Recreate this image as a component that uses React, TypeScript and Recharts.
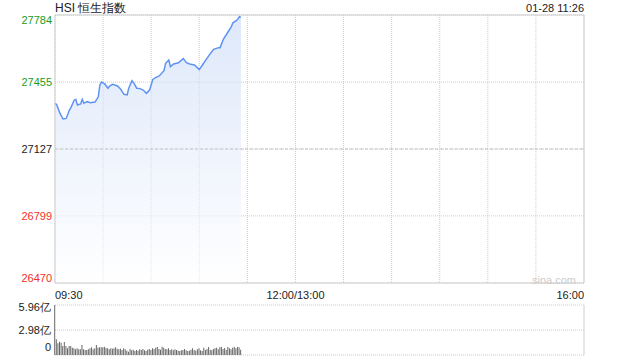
import {
  Area, Bar, BarChart, CartesianGrid, ComposedChart,
  ReferenceArea, ReferenceLine, XAxis, YAxis,
} from 'recharts'

// minutes since 09:30 (trading minutes, lunch break removed)
const priceMinutes = [
  0, 1, 3, 5, 7, 9, 10, 12, 13, 14, 16, 17, 18, 20, 22, 25, 27, 28, 29, 31,
  33, 34, 36, 39, 41, 43, 45, 46, 48, 49, 51, 53, 55, 57, 59, 61, 63, 65, 68, 69,
  71, 72, 74, 77, 80, 82, 84, 87, 90, 92, 94, 97, 99, 102, 103, 105, 108, 110, 111, 113,
  114, 115, 116,
]
const priceValues = [
  27351, 27345, 27304, 27274, 27277, 27318, 27331, 27367, 27370, 27343, 27348, 27370, 27351, 27359, 27354, 27357, 27383, 27441, 27455, 27446,
  27425, 27436, 27444, 27436, 27420, 27395, 27392, 27425, 27462, 27452, 27425, 27423, 27416, 27400, 27416, 27468, 27478, 27485, 27511, 27547,
  27563, 27531, 27544, 27550, 27570, 27550, 27544, 27539, 27516, 27539, 27563, 27596, 27616, 27624, 27624, 27665, 27702, 27727, 27746, 27756,
  27763, 27776, 27772,
]

// per-minute volume, 亿
const volumeValues = [
  5.96, 1.87, 1.39, 1.59, 1.47, 1.07, 1.55, 1.07, 0.79, 1.07, 1.07, 0.87, 0.79, 0.68, 0.79, 0.68, 0.68, 1.19, 0.68, 0.6,
  0.6, 0.68, 0.79, 0.91, 0.68, 0.79, 1.19, 0.87, 0.91, 0.91, 0.91, 0.99, 0.83, 0.79, 0.68, 0.79, 0.75, 0.79, 0.91, 0.75,
  0.68, 0.75, 0.6, 0.79, 0.68, 0.52, 0.4, 0.72, 0.56, 0.64, 0.48, 0.6, 0.52, 0.68, 0.6, 0.72, 0.56, 0.48, 0.64, 0.72,
  0.6, 0.8, 0.72, 0.87, 0.95, 0.72, 0.64, 0.99, 0.87, 0.72, 0.68, 0.79, 0.6, 0.68, 0.56, 0.68, 0.6, 0.52, 0.48, 0.56,
  0.6, 0.72, 0.56, 0.48, 0.52, 0.64, 0.79, 0.6, 0.52, 0.68, 0.79, 0.56, 0.48, 0.87, 0.6, 0.72, 0.95, 0.64, 0.56, 0.72,
  0.79, 0.87, 0.68, 0.91, 0.95, 0.72, 0.83, 0.6, 0.95, 0.79, 0.68, 0.87, 0.99, 0.79, 0.95, 0.91, 0.64,
]

const leftTicks = [26470, 26799, 27127, 27455, 27784]
const rightLabels = ['-2.42%', '-1.21%', '0.00%', '+1.21%', '+2.42%']
const prevClose = 27127
const timeTicks = [0, 30, 60, 90, 120, 150, 180, 210, 240, 270, 300, 330]
const timeLabels: Record<number, string> = { 0: '09:30', 150: '12:00/13:00', 330: '16:00' }
const volTicks = [0, 2.98, 5.96]
const volLabels = ['0', '2.98亿', '5.96亿']

const GREEN = '#1c9c1c'
const RED = '#f2302a'
const FONT = '"Liberation Sans", Arial, sans-serif'

const priceData = priceMinutes.map((t, i) => ({ t, v: priceValues[i] }))
const volumeData = volumeValues.map((v, t) => ({ t, v }))

const colorOf = (v: number) => (v > prevClose ? GREEN : v < prevClose ? RED : '#222')

const shiftOf = (i: number, n: number) => (i === 0 ? -5 : i === n - 1 ? 5 : 0)

function LeftTick({ y, payload }: any) {
  const i = leftTicks.indexOf(payload.value)
  return (
    <text x={52} y={y + shiftOf(i, leftTicks.length)} dy="0.35em" textAnchor="end"
      fill={colorOf(payload.value)} fontSize={11} fontFamily={FONT}>
      {payload.value}
    </text>
  )
}

function RightTick({ y, payload }: any) {
  const i = leftTicks.indexOf(payload.value)
  return (
    <text x={590} y={y + shiftOf(i, leftTicks.length)} dy="0.35em" textAnchor="start"
      fill={colorOf(payload.value)} fontSize={11} fontFamily={FONT}>
      {rightLabels[i]}
    </text>
  )
}

function TimeTick({ x, payload }: any) {
  const label = timeLabels[payload.value]
  if (!label) return null
  const anchor = payload.value === 0 ? 'start' : payload.value === 330 ? 'end' : 'middle'
  return (
    <text x={x} y={299} textAnchor={anchor} fill="#222" fontSize={11} fontFamily={FONT}>
      {label}
    </text>
  )
}

function VolTick({ y, payload }: any) {
  const i = volTicks.indexOf(payload.value)
  const shift = i === 0 ? -8 : i === volTicks.length - 1 ? 2 : 0
  return (
    <text x={51} y={y + shift} dy="0.35em" textAnchor="end" fill="#222" fontSize={11} fontFamily={FONT}>
      {volLabels[i]}
    </text>
  )
}

export default function App() {
  return (
    <div style={{ position: 'absolute', left: 0, top: 0, width: 640, height: 360, background: '#fff', fontFamily: FONT }}>
      <div style={{ position: 'absolute', left: 55, top: 1, fontSize: 12, lineHeight: '14px', color: '#222' }}>
        HSI 恒生指数
      </div>
      <div style={{ position: 'absolute', right: 56, top: 1, fontSize: 11, lineHeight: '14px', color: '#222' }}>
        01-28 11:26
      </div>

      <div style={{ position: 'absolute', left: 0, top: 0 }}>
        <ComposedChart width={640} height={300} data={priceData} margin={{ top: 15, right: 0, bottom: 0, left: 0 }}>
          <defs>
            <linearGradient id="hsiFill" x1="0" y1="0" x2="0" y2="1">
              <stop offset="0%" stopColor="#c8d9f7" stopOpacity={1} />
              <stop offset="100%" stopColor="#ffffff" stopOpacity={1} />
            </linearGradient>
          </defs>
          <CartesianGrid stroke="#cccccc" strokeDasharray="1 1" />
          <XAxis dataKey="t" type="number" domain={[0, 330]} ticks={timeTicks} interval={0}
            height={17} tickLine={false} axisLine={false} tick={<TimeTick />} />
          <YAxis domain={[26470, 27784]} ticks={leftTicks} width={55} interval={0}
            tickLine={false} axisLine={false} tick={<LeftTick />} />
          <YAxis yAxisId="r" orientation="right" domain={[26470, 27784]} ticks={leftTicks} width={56} interval={0}
            tickLine={false} axisLine={false} tick={<RightTick />} />
          <Area type="linear" dataKey="v" stroke="#5f93f2" strokeWidth={1.5} fill="url(#hsiFill)"
            dot={false} activeDot={false} isAnimationActive={false} />
          <ReferenceLine y={prevClose} stroke="#c4c4c4" strokeDasharray="3 2" />
          <ReferenceArea x1={0} x2={330} y1={26470} y2={27784} fill="none" stroke="#cfcfcf" strokeWidth={1} />
        </ComposedChart>
      </div>

      <div style={{ position: 'absolute', left: 532, top: 273, fontSize: 11, lineHeight: '14px', color: '#cccccc' }}>
        sina.com
      </div>

      <div style={{ position: 'absolute', left: 0, top: 300 }}>
        <BarChart width={640} height={60} data={volumeData} margin={{ top: 5, right: 56, bottom: 5, left: 0 }}>
          <CartesianGrid stroke="#cccccc" strokeDasharray="1 1" vertical={false} />
          <XAxis dataKey="t" type="number" domain={[0, 330]} hide />
          <YAxis domain={[0, 5.96]} ticks={volTicks} width={55} interval={0}
            tickLine={false} axisLine={false} tick={<VolTick />} />
          <ReferenceLine x={330} stroke="#cfcfcf" />
          <Bar dataKey="v" fill="#666" barSize={1} isAnimationActive={false} />
        </BarChart>
      </div>
    </div>
  )
}
